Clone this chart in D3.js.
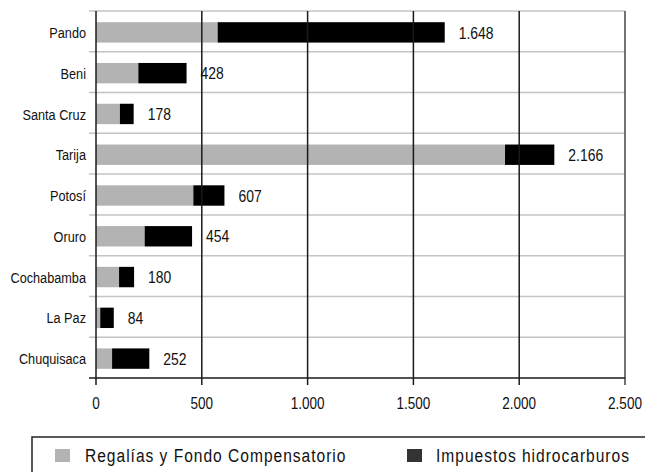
<!DOCTYPE html>
<html>
<head>
<meta charset="utf-8">
<script src="https://cdn.jsdelivr.net/npm/d3@7"></script>
<style>
  html, body { margin: 0; padding: 0; background: #fff; }
  svg { display: block; }
  text { font-family: "Liberation Sans", Arial, sans-serif; fill: #111; }
</style>
</head>
<body>
<svg id="chart" width="645" height="472"></svg>
<script>
// Departamentos, de arriba hacia abajo
const categories = ["Pando", "Beni", "Santa Cruz", "Tarija", "Potosí", "Oruro", "Cochabamba", "La Paz", "Chuquisaca"];
// Regalías y Fondo Compensatorio
const regalias = [575, 200, 113, 1933, 460, 230, 109, 20, 76];
// Impuestos hidrocarburos
const impuestos = [1073, 228, 65, 233, 147, 224, 71, 64, 176];
// Totales rotulados al final de cada barra
const totals = [1648, 428, 178, 2166, 607, 454, 180, 84, 252];
// Marcas del eje horizontal
const xTicks = [0, 500, 1000, 1500, 2000, 2500];
const seriesNames = ["Regalías y Fondo Compensatorio", "Impuestos hidrocarburos"];

const es = d3.formatLocale({ decimal: ",", thousands: ".", grouping: [3], currency: ["", ""] });
const fmt = es.format(",.0f");

// Letra estrecha: se comprime horizontalmente la Liberation Sans
const NARROW = 0.82;
const at = (px, py) => `translate(${px},${py}) scale(${NARROW},1)`;

const svg = d3.select("#chart");
const plotLeft = 96, plotRight = 625, plotTop = 11, plotBottom = 378;

const x = d3.scaleLinear().domain([0, 2500]).range([plotLeft, plotRight]);
const y = d3.scaleBand().domain(categories).range([plotTop, plotBottom]).paddingInner(0.5).paddingOuter(0.25);
const band = (plotBottom - plotTop) / categories.length;

const rows = categories.map((c, i) => ({ cat: c, reg: regalias[i], imp: impuestos[i], total: totals[i] }));
const stack = d3.stack().keys(["reg", "imp"])(rows);
const colors = { reg: "#b3b3b3", imp: "#000000" };

// Líneas horizontales entre categorías
const hLines = d3.range(categories.length).map(i => plotTop + i * band);
svg.append("g").selectAll("line").data(hLines).join("line")
  .attr("x1", plotLeft - 7).attr("x2", plotRight)
  .attr("y1", d => d).attr("y2", d => d)
  .attr("stroke", "#c4c4c4").attr("stroke-width", 1.5);

// Barras apiladas
svg.append("g").selectAll("g").data(stack).join("g")
  .attr("fill", d => colors[d.key])
  .selectAll("rect").data(d => d).join("rect")
  .attr("x", d => x(d[0]))
  .attr("width", d => x(d[1]) - x(d[0]))
  .attr("y", d => y(d.data.cat) + 1)
  .attr("height", y.bandwidth());

// Líneas verticales de la cuadrícula y marcas del eje
svg.append("g").selectAll("line").data(xTicks).join("line")
  .attr("x1", d => x(d)).attr("x2", d => x(d))
  .attr("y1", plotTop).attr("y2", plotBottom + 7)
  .attr("stroke", d => d === 2500 ? "#444" : "#1a1a1a").attr("stroke-width", 1.5);

// Eje inferior
svg.append("line")
  .attr("x1", plotLeft - 7).attr("x2", plotRight)
  .attr("y1", plotBottom).attr("y2", plotBottom)
  .attr("stroke", "#1a1a1a").attr("stroke-width", 1.5);

// Rótulos de las marcas
svg.append("g").selectAll("text").data(xTicks).join("text")
  .attr("transform", d => at(x(d), 409))
  .attr("text-anchor", "middle")
  .style("font-size", "16.5px")
  .text(d => fmt(d));

// Nombres de los departamentos
svg.append("g").selectAll("text").data(categories).join("text")
  .attr("transform", d => at(86, y(d) + 1 + y.bandwidth() / 2))
  .attr("dy", "0.36em")
  .attr("text-anchor", "end")
  .style("font-size", "15.5px")
  .text(d => d);

// Totales
svg.append("g").selectAll("text").data(rows).join("text")
  .attr("transform", d => at(x(d.total) + 14, y(d.cat) + 1 + y.bandwidth() / 2))
  .attr("dy", "0.36em")
  .style("font-size", "17px")
  .text(d => fmt(d.total));

// Leyenda
const lg = svg.append("g");
lg.append("rect")
  .attr("x", 32).attr("y", 437).attr("width", 700).attr("height", 100)
  .attr("fill", "none").attr("stroke", "#222").attr("stroke-width", 1.5);
const legendItems = [
  { name: seriesNames[0], color: "#b3b3b3", sx: 55, tx: 85 },
  { name: seriesNames[1], color: "#333333", sx: 407, tx: 436 }
];
legendItems.forEach(it => {
  lg.append("rect").attr("x", it.sx).attr("y", 449).attr("width", 15).attr("height", 13).attr("fill", it.color);
  lg.append("text").attr("transform", at(it.tx, 462))
    .style("font-size", "19px").style("letter-spacing", "1.2px")
    .text(it.name);
});
</script>
</body>
</html>
